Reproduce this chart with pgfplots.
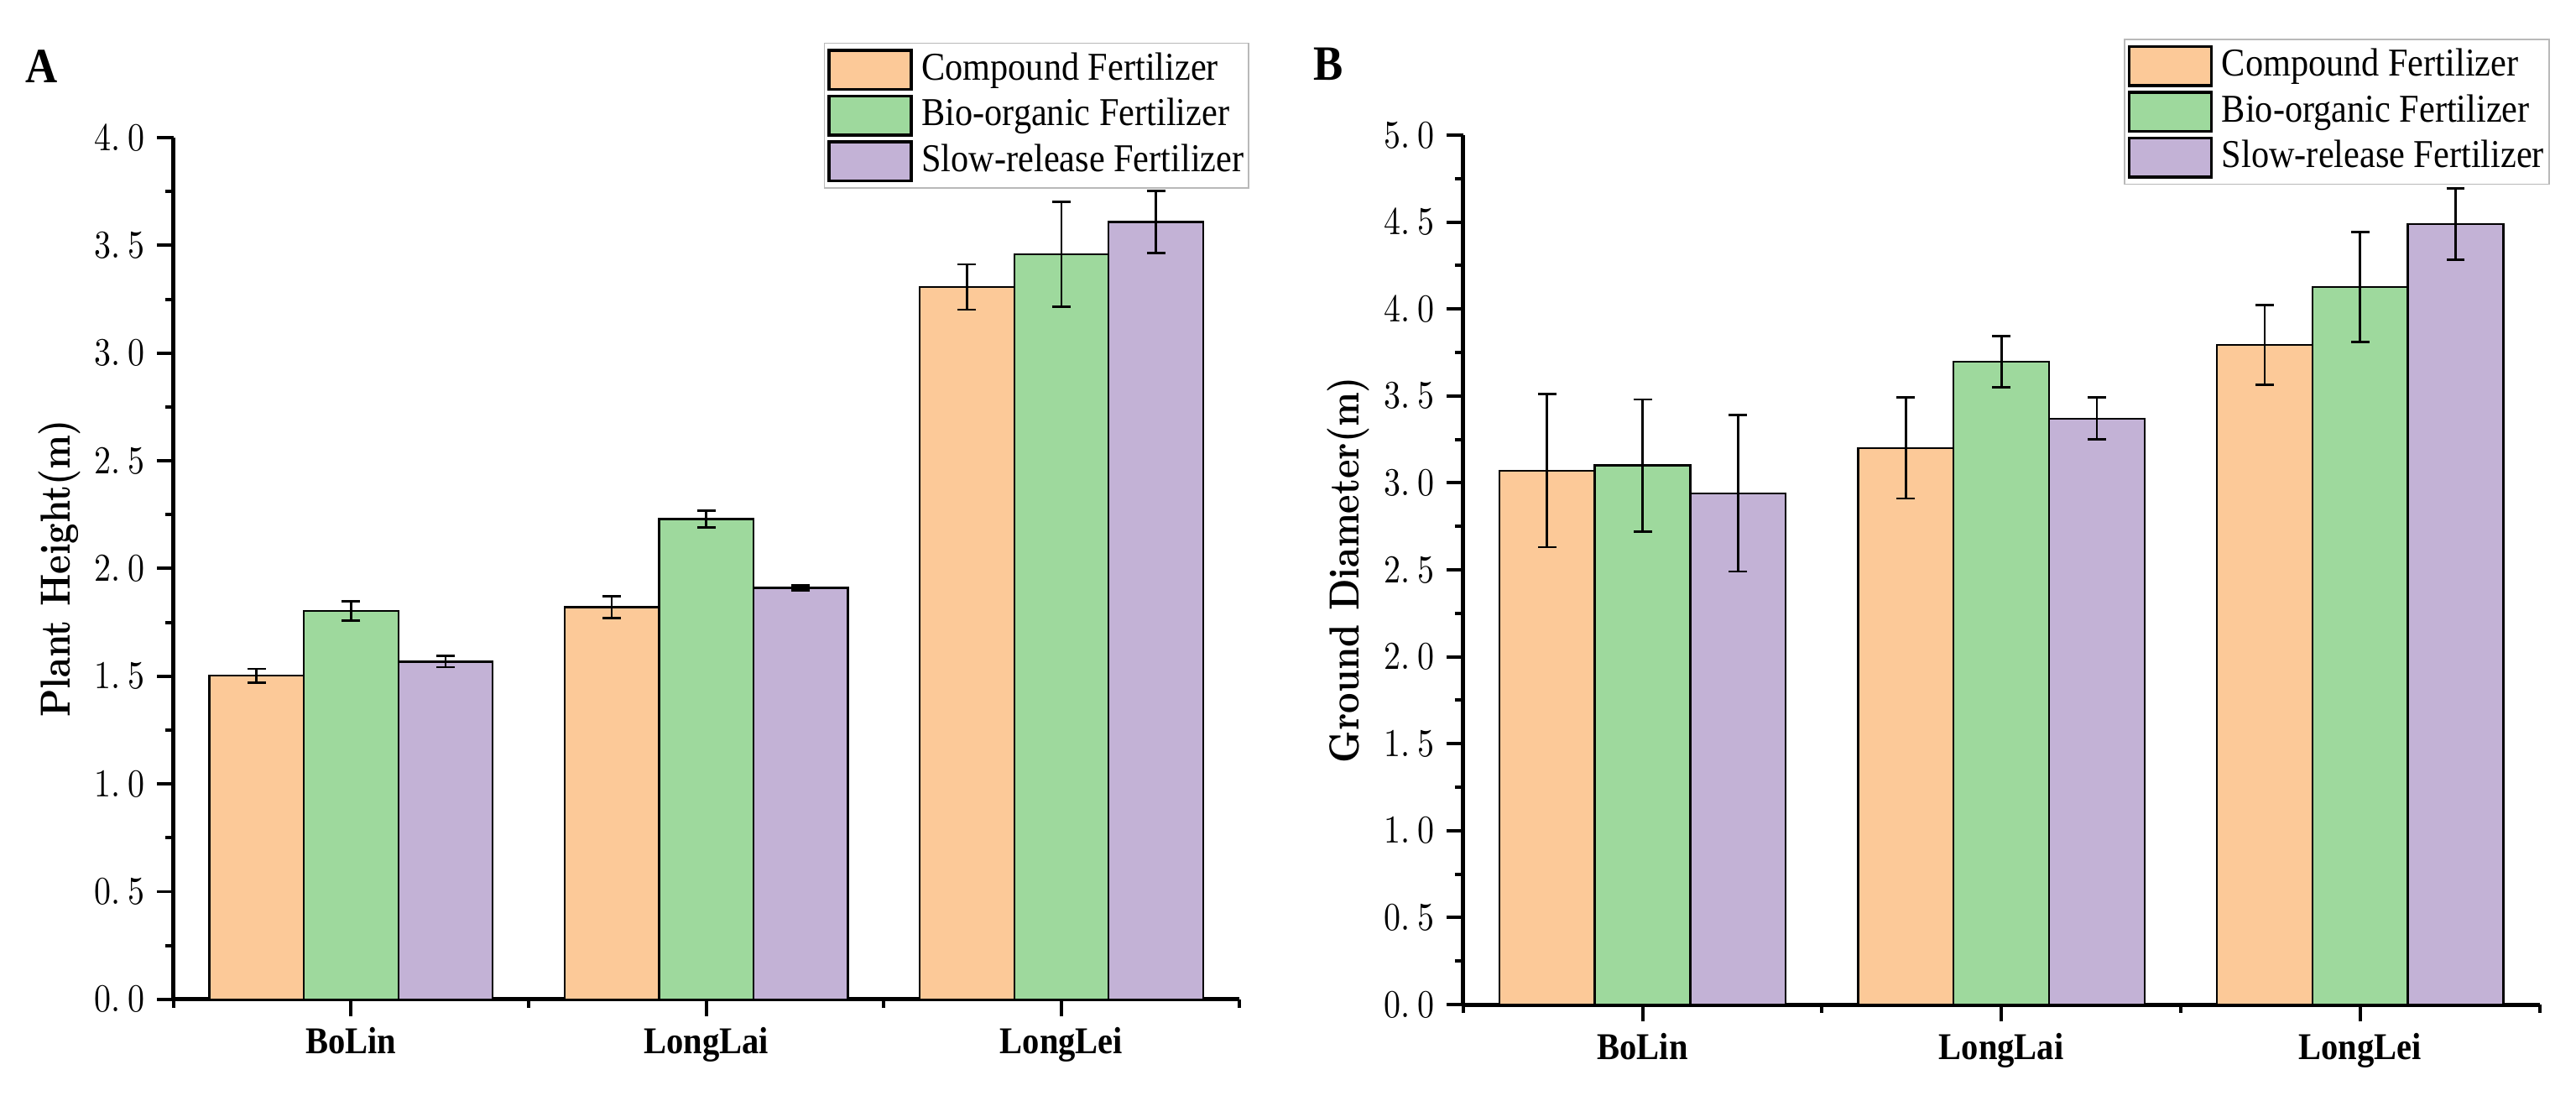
\documentclass[border=0pt]{standalone}
\usepackage{pgfplots}
\pgfplotsset{compat=1.18}
\usepackage{fontspec}
\newfontfamily\timesfont{Liberation Serif}[FakeStretch=0.9]
\newfontfamily\lmfont{lmroman10}[Extension=.otf, UprightFont=*-regular, BoldFont=*-bold, FakeStretch=0.85]

\definecolor{cfert}{RGB}{252,201,152}
\definecolor{bfert}{RGB}{158,217,157}
\definecolor{sfert}{RGB}{195,178,214}

% tick numbers are printed with a gap after the point, as in the original
\newcommand{\tk}[2]{#1.\hspace{2.5pt}#2}

\pgfplotsset{
  fertbars/.style={
    scale only axis,
    ybar,
    bar width=0.266,
    xmin=-0.5, xmax=2.5,
    ymin=0,
    axis x line*=bottom,
    axis y line*=left,
    axis line style={line width=1.3pt, -},
    tick align=outside,
    major tick length=5.1pt,
    minor tick length=2.55pt,
    tick style={line width=1pt, black},
    xtick={0,1,2},
    minor xtick={-0.5,0.5,1.5,2.5},
    xticklabels={BoLin,LongLai,LongLei},
    xticklabel style={font=\timesfont\bfseries\fontsize{11.5}{13}\selectfont},
    yticklabel style={font=\lmfont\fontsize{12}{14}\selectfont},
    minor y tick num=1,
    ylabel style={font=\lmfont\bfseries\fontsize{12.8}{14}\selectfont, anchor=center},
    clip=false,
    legend style={draw=gray!55, line width=0.5pt, anchor=north east,
      font=\timesfont\fontsize{12}{14}\selectfont,
      inner xsep=1pt, inner ysep=1.2pt, column sep=2.2pt, row sep=0pt,
      nodes={inner sep=0.5pt, text height=9.5pt, text depth=3.4pt},
      cells={anchor=west}},
    legend image code/.code={\draw[##1, line width=0.9pt] (0pt,-5.95pt) rectangle (25pt,5.95pt);},
    error bars/y dir=both,
    error bars/y explicit,
    error bars/error bar style={line width=0.7pt, black},
    error bars/error mark options={rotate=90, mark size=2.8pt, line width=0.7pt, black},
  },
  cbar/.style={fill=cfert, draw=black, line width=0.6pt, bar shift=-0.266},
  bbar/.style={fill=bfert, draw=black, line width=0.6pt, bar shift=0},
  sbar/.style={fill=sfert, draw=black, line width=0.6pt, bar shift=0.266},
}

\begin{document}
\begin{tikzpicture}
\useasboundingbox (0,0) rectangle (784pt,-333.5pt);

\node[font=\timesfont\bfseries\fontsize{15}{17}\selectfont] at (12.6pt,-20.2pt) {A};
\node[font=\timesfont\bfseries\fontsize{15}{17}\selectfont] at (404.4pt,-19.4pt) {B};

% A: plant height
\begin{axis}[fertbars,
  at={(52.8pt,-304.1pt)}, anchor=south west,
  width=324.3pt, height=262.2pt,
  ymax=4,
  ytick={0,0.5,1,1.5,2,2.5,3,3.5,4},
  yticklabels={\tk00,\tk05,\tk10,\tk15,\tk20,\tk25,\tk30,\tk35,\tk40},
  ylabel={Plant Height(m)},
  ylabel style={at={(axis description cs:-0.107,0.5)}},
  legend style={at={(axis description cs:1.0099,1.1106)}},
]
\addplot[cbar] coordinates {(0,1.502) +- (0,0.032) (1,1.821) +- (0,0.05) (2,3.307) +- (0,0.105)};
\addplot[bbar] coordinates {(0,1.803) +- (0,0.045) (1,2.23) +- (0,0.04) (2,3.459) +- (0,0.243)};
\addplot[sbar] coordinates {(0,1.568) +- (0,0.026) (1,1.91) +- (0,0.012) (2,3.609) +- (0,0.145)};
\legend{Compound Fertilizer,Bio-organic Fertilizer,Slow-release Fertilizer}
\end{axis}

% B: ground diameter
\begin{axis}[fertbars,
  at={(445.3pt,-305.7pt)}, anchor=south west,
  width=327.6pt, height=264.6pt,
  ymax=5,
  ytick={0,0.5,1,1.5,2,2.5,3,3.5,4,4.5,5},
  yticklabels={\tk00,\tk05,\tk10,\tk15,\tk20,\tk25,\tk30,\tk35,\tk40,\tk45,\tk50},
  ylabel={Ground Diameter(m)},
  ylabel style={at={(axis description cs:-0.107,0.5)}},
  legend style={at={(axis description cs:1.0095,1.1111)}},
]
\addplot[cbar] coordinates {(0,3.07) +- (0,0.44) (1,3.20) +- (0,0.29) (2,3.794) +- (0,0.23)};
\addplot[bbar] coordinates {(0,3.10) +- (0,0.38) (1,3.697) +- (0,0.146) (2,4.127) +- (0,0.315)};
\addplot[sbar] coordinates {(0,2.94) +- (0,0.45) (1,3.37) +- (0,0.12) (2,4.489) +- (0,0.205)};
\legend{Compound Fertilizer,Bio-organic Fertilizer,Slow-release Fertilizer}
\end{axis}
\end{tikzpicture}
\end{document}
